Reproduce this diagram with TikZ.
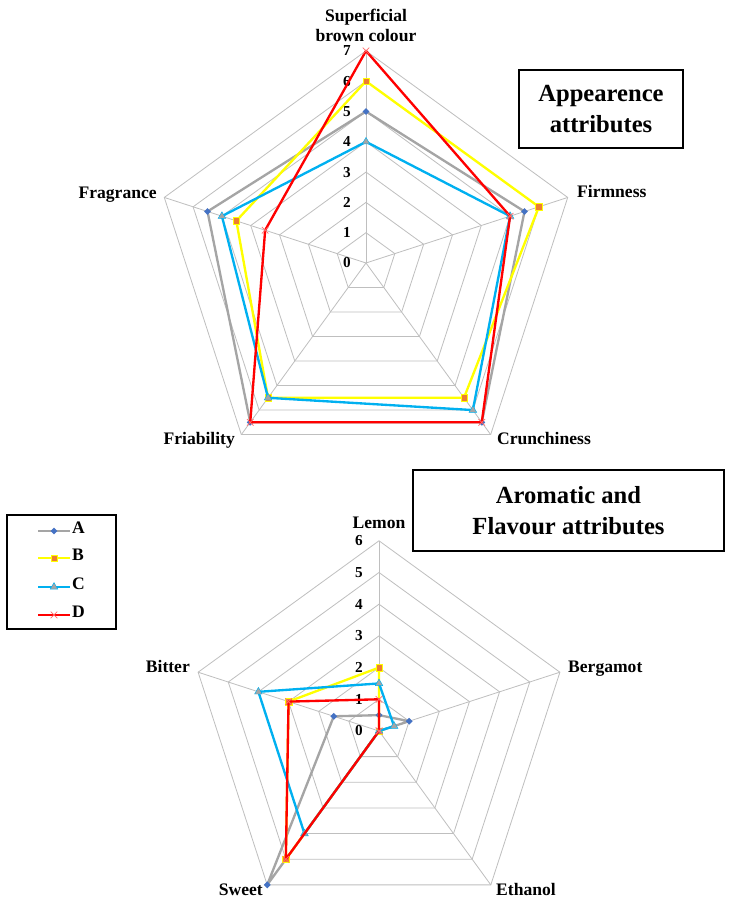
\documentclass[tikz,border=0pt]{standalone}
\usepackage{fontspec}
\setmainfont{Liberation Serif}
\usetikzlibrary{shapes.geometric,shapes.misc,calc}

\definecolor{gridgray}{HTML}{BFBFBF}
\definecolor{serA}{HTML}{A5A5A5}
\definecolor{mkA}{HTML}{4472C4}
\definecolor{serB}{HTML}{FFFF00}
\definecolor{mkB}{HTML}{ED7D31}
\definecolor{serC}{HTML}{00B0F0}
\definecolor{serD}{HTML}{FF0000}
\definecolor{mkD}{HTML}{FF6B6B}

\tikzset{
  gridline/.style={gridgray, line width=0.7pt},
  series/.style={line width=2pt, line join=round},
  axislabel/.style={font=\bfseries\fontsize{15}{17}\selectfont, align=center, inner sep=0pt},
  ticklabel/.style={font=\bfseries\fontsize{13}{15}\selectfont, inner sep=0pt},
  titlebox/.style={draw, line width=1pt, align=center, inner sep=0pt,
    font=\bfseries\fontsize{21}{26}\selectfont},
  mkrA/.style={diamond, fill=mkA, inner sep=0pt, minimum size=6pt},
  mkrB/.style={rectangle, fill=mkB, draw=serB, line width=0.4pt, inner sep=0pt, minimum size=5.5pt},
  mkrC/.style={regular polygon, regular polygon sides=3, fill=serA, draw=serC,
    line width=0.4pt, inner sep=0pt, minimum size=7.5pt},
  mkrD/.style={cross out, draw=mkD, line width=0.6pt, inner sep=0pt, minimum size=5pt},
}

\begin{document}
\begin{tikzpicture}[x=0.03cm, y=0.03cm]
  \useasboundingbox (0,0) rectangle (731,905);

  % appearance chart
  \begin{scope}[shift={(366,642)}, scale=30.3]
    \coordinate (O1) at (0,0);
    \foreach \r in {1,...,7}
      \draw [gridline] (90:\r) -- (18:\r) -- (-54:\r) -- (-126:\r) -- (162:\r) -- cycle;
    \foreach \a in {90,18,-54,-126,162}
      \draw [gridline] (O1) -- (\a:7);
    \foreach \r in {0,...,7}
      \node [ticklabel] (t1\r) at (-0.63,\r) {\r};

    \node [axislabel, anchor=south]    (brown)  at (90:7.3)     {Superficial\\brown colour};
    \node [axislabel, anchor=mid west] (firm)   at (6.96,2.24)  {Firmness};
    \node [axislabel, anchor=mid west] (crunch) at (4.32,-5.91) {Crunchiness};
    \node [axislabel, anchor=mid east] (friab)  at (-4.32,-5.91) {Friability};
    \node [axislabel, anchor=mid east] (fragr)  at (-6.9,2.21)  {Fragrance};

    \draw [series, serA] (90:5) -- (18:5.5) -- (-54:6.5) -- (-126:6.5) -- (162:5.5) -- cycle;
    \foreach \a/\r in {90/5, 18/5.5, -54/6.5, -126/6.5, 162/5.5}
      \node [mkrA] at (\a:\r) {};
    \draw [series, serB] (90:6) -- (18:6) -- (-54:5.5) -- (-126:5.5) -- (162:4.5) -- cycle;
    \foreach \a/\r in {90/6, 18/6, -54/5.5, -126/5.5, 162/4.5}
      \node [mkrB] at (\a:\r) {};
    \draw [series, serC] (90:4) -- (18:5) -- (-54:6) -- (-126:5.5) -- (162:5) -- cycle;
    \foreach \a/\r in {90/4, 18/5, -54/6, -126/5.5, 162/5}
      \node [mkrC] at (\a:\r) {};
    \draw [series, serD] (90:7) -- (18:5) -- (-54:6.5) -- (-126:6.5) -- (162:3.5) -- cycle;
    \foreach \a/\r in {90/7, 18/5, -54/6.5, -126/6.5, 162/3.5}
      \node [mkrD] at (\a:\r) {};
  \end{scope}

  % aroma and flavour chart
  \begin{scope}[shift={(379,174)}, scale=31.7]
    \coordinate (O2) at (0,0);
    \foreach \r in {1,...,6}
      \draw [gridline] (90:\r) -- (18:\r) -- (-54:\r) -- (-126:\r) -- (162:\r) -- cycle;
    \foreach \a in {90,18,-54,-126,162}
      \draw [gridline] (O2) -- (\a:6);
    \foreach \r in {0,...,6}
      \node [ticklabel] (t2\r) at (-0.63,\r) {\r};

    \node [axislabel]                  (lemon)  at (0,6.56)      {Lemon};
    \node [axislabel, anchor=mid west] (berg)   at (5.96,1.92)   {Bergamot};
    \node [axislabel, anchor=mid west] (ethan)  at (3.69,-5.11)  {Ethanol};
    \node [axislabel, anchor=mid east] (sweet)  at (-3.66,-5.11) {Sweet};
    \node [axislabel, anchor=mid east] (bitter) at (-5.96,1.92)  {Bitter};

    \draw [series, serA] (90:0.5) -- (18:1) -- (-54:0) -- (-126:6) -- (162:1.5) -- cycle;
    \foreach \a/\r in {90/0.5, 18/1, -54/0, -126/6, 162/1.5}
      \node [mkrA] at (\a:\r) {};
    \draw [series, serB] (90:2) -- (18:0) -- (-54:0) -- (-126:5) -- (162:3) -- cycle;
    \foreach \a/\r in {90/2, 18/0, -54/0, -126/5, 162/3}
      \node [mkrB] at (\a:\r) {};
    \draw [series, serC] (90:1.5) -- (18:0.5) -- (-54:0) -- (-126:4) -- (162:4) -- cycle;
    \foreach \a/\r in {90/1.5, 18/0.5, -54/0, -126/4, 162/4}
      \node [mkrC] at (\a:\r) {};
    \draw [series, serD] (90:1) -- (18:0) -- (-54:0) -- (-126:5) -- (162:3) -- cycle;
    \foreach \a/\r in {90/1, 18/0, -54/0, -126/5, 162/3}
      \node [mkrD] at (\a:\r) {};
  \end{scope}

  % titles
  \node [titlebox, minimum width=4.92cm, minimum height=2.34cm] (appear) at (601,796)
    {Appearence\\attributes};
  \node [titlebox, minimum width=9.33cm, minimum height=2.43cm] (aroma) at (568.5,394.5)
    {Aromatic and\\Flavour attributes};

  % legend
  \node [draw, line width=1pt, minimum width=3.27cm, minimum height=3.42cm] (legend) at (61.5,333) {};
  \foreach \s/\y in {A/374, B/347, C/318, D/290} {
    \coordinate (l\s) at (38,\y);
    \coordinate (r\s) at (70,\y);
    \draw [series, ser\s] (l\s) -- (r\s);
    \node [mkr\s] at ($(l\s)!0.5!(r\s)$) {};
    \node [axislabel, anchor=mid west] (key\s) at (72,\y) {\s};
  }
\end{tikzpicture}
\end{document}
